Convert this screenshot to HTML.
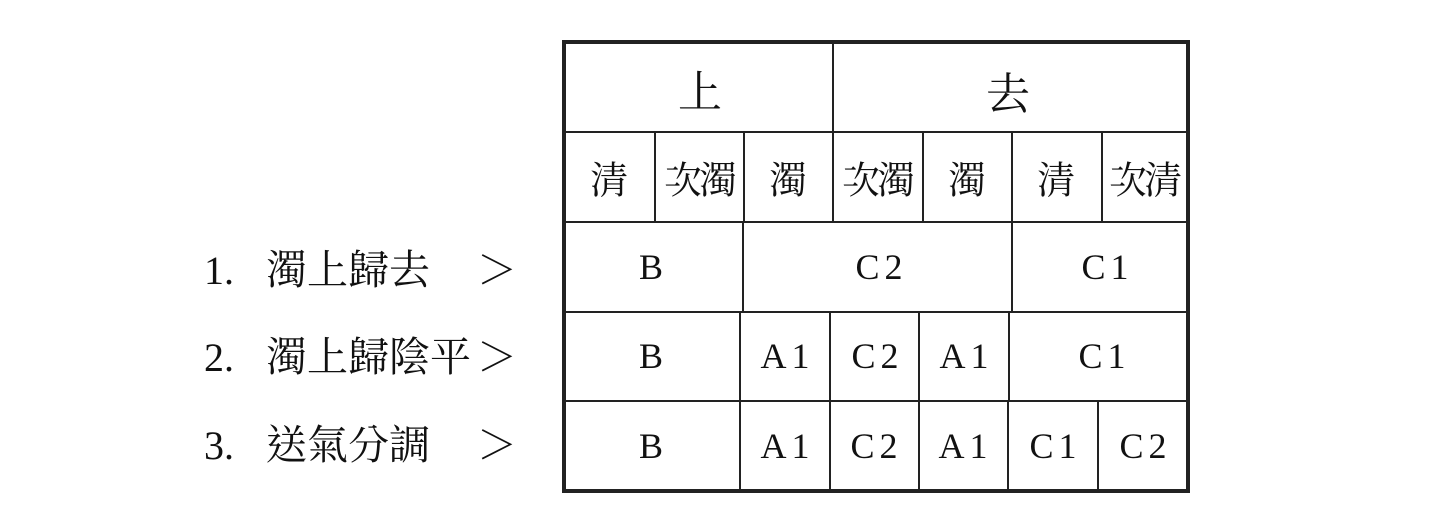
<!DOCTYPE html>
<html><head><meta charset="utf-8"><style>
body{margin:0;width:1454px;height:532px;background:#fff;position:relative;overflow:hidden;font-family:"Liberation Serif","Noto Serif CJK TC",serif;color:#111}
.l{position:absolute;background:#222}
.t{position:absolute;text-align:center;transform:translate(-50%,-50%);white-space:nowrap}
.c{font-family:"Liberation Serif","Noto Serif CJK TC",serif;font-size:38px}
.h{font-size:44px}
.a{font-size:36px;letter-spacing:5px;text-indent:5px}
.lab{position:absolute;font-size:40px;font-family:"Liberation Serif","Noto Serif CJK TC",serif;white-space:nowrap;line-height:1}
</style></head><body>
<div class="l" style="left:562px;top:40px;width:628px;height:4px"></div>
<div class="l" style="left:562px;top:489px;width:628px;height:4px"></div>
<div class="l" style="left:562px;top:40px;width:4px;height:453px"></div>
<div class="l" style="left:1186px;top:40px;width:4px;height:453px"></div>
<div class="l" style="left:566px;top:131px;width:620px;height:2px"></div>
<div class="l" style="left:566px;top:221px;width:620px;height:2px"></div>
<div class="l" style="left:566px;top:311px;width:620px;height:2px"></div>
<div class="l" style="left:566px;top:400px;width:620px;height:2px"></div>
<div class="l" style="left:832px;top:44px;width:1.5px;height:87px"></div>
<div class="l" style="left:654px;top:133px;width:1.5px;height:88px"></div>
<div class="l" style="left:743px;top:133px;width:1.5px;height:88px"></div>
<div class="l" style="left:832px;top:133px;width:1.5px;height:88px"></div>
<div class="l" style="left:922px;top:133px;width:1.5px;height:88px"></div>
<div class="l" style="left:1011px;top:133px;width:1.5px;height:88px"></div>
<div class="l" style="left:1101px;top:133px;width:1.5px;height:88px"></div>
<div class="l" style="left:742px;top:223px;width:1.5px;height:88px"></div>
<div class="l" style="left:1011px;top:223px;width:1.5px;height:88px"></div>
<div class="l" style="left:739px;top:313px;width:1.5px;height:87px"></div>
<div class="l" style="left:829px;top:313px;width:1.5px;height:87px"></div>
<div class="l" style="left:918px;top:313px;width:1.5px;height:87px"></div>
<div class="l" style="left:1008px;top:313px;width:1.5px;height:87px"></div>
<div class="l" style="left:739px;top:402px;width:1.5px;height:87px"></div>
<div class="l" style="left:829px;top:402px;width:1.5px;height:87px"></div>
<div class="l" style="left:918px;top:402px;width:1.5px;height:87px"></div>
<div class="l" style="left:1007px;top:402px;width:1.5px;height:87px"></div>
<div class="l" style="left:1097px;top:402px;width:1.5px;height:87px"></div>
<div class="t c h" style="left:700px;top:88px">上</div>
<div class="t c h" style="left:1008px;top:90px">去</div>
<div class="t c" style="left:609px;top:177px">清</div>
<div class="t c" style="left:699px;top:177px;letter-spacing:-3px">次濁</div>
<div class="t c" style="left:788px;top:177px">濁</div>
<div class="t c" style="left:877px;top:177px;letter-spacing:-3px">次濁</div>
<div class="t c" style="left:967px;top:177px">濁</div>
<div class="t c" style="left:1056px;top:177px">清</div>
<div class="t c" style="left:1144px;top:177px;letter-spacing:-3px">次清</div>
<div class="t a" style="left:651px;top:267px">B</div>
<div class="t a" style="left:879px;top:267px">C2</div>
<div class="t a" style="left:1105px;top:267px">C1</div>
<div class="t a" style="left:651px;top:356px">B</div>
<div class="t a" style="left:785px;top:356px">A1</div>
<div class="t a" style="left:875px;top:356px">C2</div>
<div class="t a" style="left:964px;top:356px">A1</div>
<div class="t a" style="left:1102px;top:356px">C1</div>
<div class="t a" style="left:651px;top:446px">B</div>
<div class="t a" style="left:785px;top:446px">A1</div>
<div class="t a" style="left:874px;top:446px">C2</div>
<div class="t a" style="left:963px;top:446px">A1</div>
<div class="t a" style="left:1053px;top:446px">C1</div>
<div class="t a" style="left:1143px;top:446px">C2</div>
<div class="lab" style="left:204px;top:251px">1.</div>
<div class="lab" style="left:266px;top:250px;font-size:41px">濁上歸去</div>
<div class="lab" style="left:477px;top:251px">＞</div>
<div class="lab" style="left:204px;top:338px">2.</div>
<div class="lab" style="left:266px;top:337px;font-size:41px">濁上歸陰平</div>
<div class="lab" style="left:477px;top:338px">＞</div>
<div class="lab" style="left:204px;top:426px">3.</div>
<div class="lab" style="left:266px;top:425px;font-size:41px">送氣分調</div>
<div class="lab" style="left:477px;top:426px">＞</div>
</body></html>
